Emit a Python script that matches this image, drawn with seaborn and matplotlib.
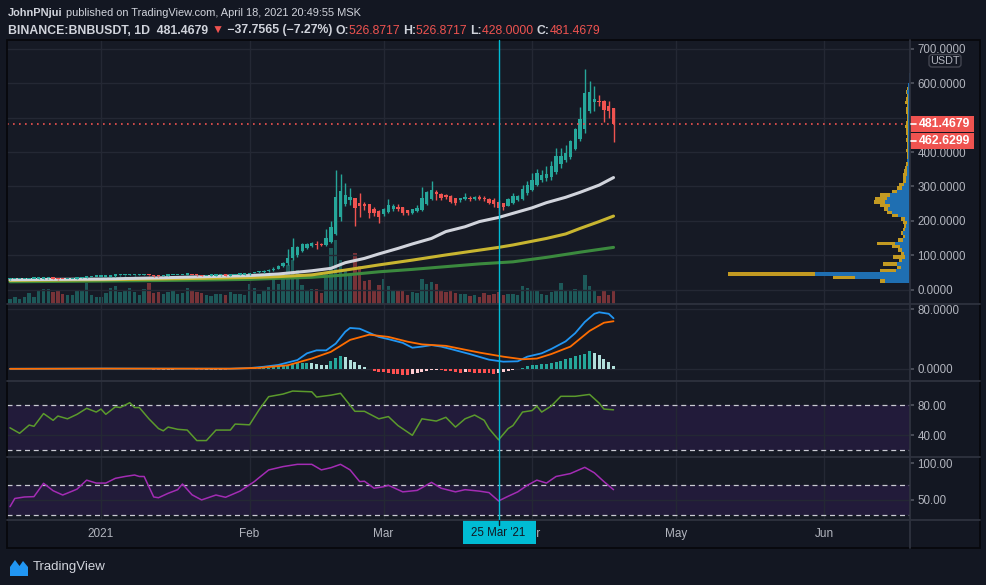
import matplotlib.pyplot as plt
import matplotlib.dates as mdates
import matplotlib.transforms as mtransforms
from matplotlib.patches import Rectangle, FancyBboxPatch
import numpy as np
import pandas as pd
import seaborn as sns

sns.set_theme(style="dark")
plt.rcParams['font.family'] = ['Liberation Sans', 'DejaVu Sans']
HEAD_FONT = ['Liberation Sans', 'DejaVu Sans']

BG = "#131722"
PANE = "#161a25"
GRID = "#242834"
SEP = "#2e323e"
TXT = "#b2b5be"
UP = "#26a69a"
DN = "#ef5350"
CYAN = "#00bcd4"

# ---- daily candles BNB/USDT, 13 Dec 2020 .. 18 Apr 2021 ----
dates = pd.date_range("2020-12-13", "2021-04-18", freq="D")

opens = [30.0, 30.4, 30.6, 30.7, 31.1, 31.6, 31.8, 32.5, 32.6, 32.7,
         31.6, 30.8, 30.5, 31.0, 31.6, 32.8, 35.2, 37.0, 37.5, 37.7,
         37.9, 38.2, 41.0, 41.4, 41.9, 42.3, 42.5, 42.6, 42.8, 43.3,
         41.5, 40.0, 39.6, 40.8, 41.9, 42.3, 42.7, 43.2, 43.4, 42.4,
         41.9, 39.8, 40.5, 40.8, 41.5, 42.0, 41.1, 42.2, 43.1, 43.9,
         44.9, 48.3, 50.4, 50.9, 52.9, 56.5, 61.5, 68.0, 77.0, 93.0,
         101, 113, 122, 128, 134, 133, 129, 138, 161, 212,
         249, 262, 267, 252, 249, 248, 236, 229, 220, 226,
         234, 241, 240, 231, 224, 228, 231, 249, 265, 285,
         277, 275, 272, 266, 262, 264, 268, 265, 268, 268,
         264, 260, 255, 251, 244, 253, 262, 265, 280, 290,
         304, 319, 324, 329, 343, 365, 376, 387, 409, 438,
         467, 519, 545, 550, 550, 535, 526.8717]
highs = [30.9, 31.0, 31.1, 31.5, 32.3, 32.4, 33.5, 34.2, 33.6, 33.0,
         31.9, 31.2, 31.6, 32.0, 33.6, 36.0, 38.5, 38.6, 38.3, 38.6,
         40.0, 42.0, 42.4, 43.0, 43.3, 44.5, 44.0, 44.4, 44.8, 43.6,
         41.9, 40.5, 41.6, 42.5, 43.3, 43.6, 44.0, 45.5, 43.9, 42.8,
         42.2, 41.2, 41.6, 42.3, 42.6, 42.2, 42.8, 43.7, 44.5, 45.8,
         49.5, 51.8, 53.5, 56.0, 60.5, 66.0, 72.0, 79.5, 118, 149,
         128, 135, 137, 138, 141, 136, 176, 199, 348, 336,
         310, 295, 268, 280, 256, 250, 240, 232, 238, 265,
         250, 248, 241, 232, 236, 245, 299, 288, 317, 290,
         280, 277, 274, 266, 268, 281, 272, 273, 276, 272,
         266, 266, 260, 253, 266, 281, 276, 303, 315, 340,
         352, 348, 360, 375, 412, 412, 420, 436, 470, 532,
         641, 606, 592, 565, 551, 550, 526.8717]
lows = [29.6, 30.0, 30.1, 30.3, 30.9, 31.2, 31.6, 31.9, 32.0, 31.0,
        29.6, 29.9, 30.2, 31.0, 31.4, 32.6, 34.8, 36.4, 36.8, 36.8,
        36.9, 37.9, 38.0, 40.6, 41.0, 41.5, 41.0, 41.3, 42.0, 40.6,
        37.5, 37.0, 39.0, 40.3, 41.5, 41.8, 42.3, 42.2, 41.8, 40.6,
        38.8, 39.0, 39.8, 40.3, 40.9, 39.7, 40.6, 41.8, 43.0, 43.5,
        43.8, 47.2, 49.2, 49.8, 52.0, 55.5, 60.0, 65.0, 72.0, 85.0,
        96, 110, 118, 125, 117, 126, 127, 135, 158, 200,
        244, 245, 185, 212, 232, 207, 215, 194, 215, 222,
        230, 228, 218, 216, 221, 225, 229, 245, 262, 262,
        262, 264, 253, 245, 256, 262, 258, 262, 260, 258,
        249, 240, 221, 232, 242, 250, 258, 262, 276, 287,
        300, 312, 315, 320, 335, 355, 370, 380, 405, 432,
        455, 515, 520, 535, 488, 500, 428.0]
closes = [30.4, 30.6, 30.7, 31.1, 31.6, 31.8, 32.5, 32.6, 32.7, 31.6,
          30.8, 30.5, 31.0, 31.6, 32.8, 35.2, 37.0, 37.5, 37.7, 37.9,
          38.2, 41.0, 41.4, 41.9, 42.3, 42.5, 42.6, 42.8, 43.3, 41.5,
          40.0, 39.6, 40.8, 41.9, 42.3, 42.7, 43.2, 43.4, 42.4, 41.9,
          39.8, 40.5, 40.8, 41.5, 42.0, 41.1, 42.2, 43.1, 43.9, 44.9,
          48.3, 50.4, 50.9, 52.9, 56.5, 61.5, 68.0, 77.0, 93.0, 123.0,
          125, 132, 134, 135, 130, 130, 149, 182, 270, 287,
          275, 270, 238, 243, 243, 222, 222, 212, 234, 245,
          243, 234, 222, 222, 234, 238, 267, 284, 290, 277,
          268, 269, 256, 251, 266, 270, 264, 270, 265, 264,
          253, 249, 238, 241, 263, 272, 273, 292, 304, 319,
          339, 334, 336, 360, 389, 389, 397, 433, 468, 497,
          571, 575, 555, 545, 522, 519.2244, 481.4679]
# volume, in the bar-height units of the lower band of the main pane
volume = [5.3, 6.7, 5.3, 7.3, 10.7, 6.7, 13.7, 14.7, 14.7, 11.7,
          12.7, 9.7, 8.7, 8.7, 12.7, 13.7, 21.0, 8.7, 6.7, 7.0,
          10.7, 15.7, 17.7, 11.7, 12.7, 16.3, 11.7, 9.3, 14.7, 20.7,
          10.7, 11.7, 10.3, 11.7, 12.7, 10.3, 10.7, 16.3, 12.7, 11.7,
          10.7, 8.7, 7.7, 9.7, 9.7, 8.7, 11.7, 9.7, 9.7, 8.7,
          19.7, 15.7, 9.7, 13.7, 16.7, 26.7, 19.7, 25.0, 38.7, 43.7,
          34.0, 18.7, 14.3, 14.7, 15.3, 10.7, 32.0, 56.0, 64.3, 43.7,
          34.3, 29.3, 51.0, 37.7, 22.7, 23.7, 13.3, 18.7, 25.3, 17.7,
          14.3, 13.7, 12.7, 8.7, 11.7, 11.0, 25.3, 20.0, 21.7, 20.3,
          12.7, 12.0, 13.3, 11.0, 10.0, 10.3, 7.7, 8.7, 6.7, 11.0,
          9.3, 10.3, 12.0, 8.7, 10.3, 10.3, 9.3, 17.7, 16.0, 14.3,
          13.7, 10.3, 9.3, 11.7, 14.3, 21.0, 13.3, 12.7, 15.3, 13.3,
          29.3, 17.7, 13.3, 7.7, 13.3, 9.3, 12.7]

# moving averages (at these candle indices)
ma50_idx = [0, 19, 30, 40, 50, 56, 63, 67, 70, 74, 77, 81, 84, 88, 91, 95, 98, 102, 105, 109,
            112, 116, 119, 123, 126]
ma50_val = [29, 31, 34, 37.5, 41, 45.6, 55, 62, 78.5, 91, 104, 120, 133, 149, 169, 183, 198, 210, 222, 238,
            253, 268.6, 283, 304, 326]
ma100_idx = [0, 19, 30, 40, 50, 56, 63, 70, 77, 84, 91, 98, 102, 105, 112, 116, 119, 123, 126]
ma100_val = [27, 29, 31, 33, 35.5, 38, 43, 57, 72, 86, 101, 115, 123, 130, 149, 162, 178, 198, 214]
ma200_idx = [0, 19, 30, 40, 50, 56, 63, 70, 77, 84, 91, 98, 105, 112, 119, 126]
ma200_val = [23, 25, 26.5, 28, 30, 33, 36, 42.7, 52, 59, 67, 75, 81, 94, 109, 123]

# MACD
macd_idx = [0, 20, 35, 46, 50, 53, 56, 60, 62, 64, 66, 68, 70, 71, 73, 77, 79, 82, 84, 86,
            88, 90, 92, 96, 100, 103, 106, 108, 111, 113, 116, 118, 120, 122, 123, 125, 126]
macd_val = [0.3, 0.6, 0.4, 0.4, 1.2, 3.0, 5.4, 12.0, 21.0, 25.0, 25.0, 34.0, 50.0, 55.0, 54.0, 43.0, 40.0, 35.0, 28.5, 30.0,
            32.0, 30.0, 26.8, 20.0, 12.5, 9.8, 10.3, 16.5, 21.0, 26.8, 37.0, 48.0, 63.0, 74.0, 76.0, 74.0, 68.0]
signal_idx = [0, 20, 46, 52, 58, 63, 67, 71, 75, 79, 83, 86, 91, 98, 103, 107, 110, 113, 117, 121, 124, 126]
signal_val = [0.2, 0.5, 0.4, 1.5, 5.0, 14.0, 23.0, 39.0, 46.0, 43.0, 36.6, 33.0, 31.0, 22.0, 16.5, 13.0, 14.0, 20.0, 30.0, 51.0,
              62.0, 64.0]
hist = [0.2, 0.3, 0.3, 0.2, 0.3, 0.4, 0.4, 0.3, 0.3, 0.2,
        0.1, 0.0, 0.1, 0.2, 0.3, 0.5, 0.7, 0.7, 0.6, 0.5,
        0.4, 0.5, 0.5, 0.4, 0.3, 0.3, 0.2, 0.1, 0.0, -0.4,
        -0.9, -1.2, -1.1, -0.9, -0.7, -0.6, -0.5, -0.4, -0.6, -0.8,
        -1.2, -1.1, -0.9, -0.8, -0.7, -0.8, -0.6, -0.4, -0.2, 0.1,
        0.6, 0.9, 1.0, 1.3, 1.8, 3.0, 3.8, 4.6, 6.0, 7.2,
        8.1, 8.3, 8.6, 7.8, 6.9, 5.8, 5.4, 10.7, 14.5, 16.8,
        15.5, 12.0, 9.0, 5.5, 3.0, 0.6, -2.5, -3.6, -4.6, -5.5,
        -6.6, -7.2, -7.8, -8.0, -7.0, -5.2, -3.6, -2.4, -1.8, -1.3,
        -1.6, -2.6, -3.3, -4.4, -4.8, -4.0, -4.6, -5.0, -5.3, -5.8,
        -5.9, -6.1, -5.6, -3.8, -2.5, -1.2, 0.4, 1.5, 3.5, 5.4,
        5.9, 6.6, 7.1, 8.4, 10.0, 11.2, 13.0, 14.6, 17.0, 18.5,
        20.5, 24.0, 21.6, 18.2, 14.0, 9.5, 3.8]

# oscillator 1 (green, bands 80/20)
osc1_idx = [0, 2, 4, 5, 7, 9, 10, 12, 14, 16, 18, 19, 20, 22, 23, 25, 26, 27, 29, 31,
            32, 33, 35, 37, 39, 41, 43, 46, 47, 50, 52, 54, 57, 59, 63, 64, 67, 69, 72, 74,
            77, 79, 81, 84, 86, 89, 91, 93, 95, 97, 99, 100, 102, 104, 105, 107, 109, 110, 111, 113,
            115, 118, 121, 123, 124, 126]
osc1_val = [50, 42.7, 53.7, 52, 69, 60, 65.7, 62, 68, 76, 71, 75, 68, 78, 77, 83.5, 77, 77, 62, 49,
            46, 51, 48, 47, 33, 33, 47, 47, 55, 54, 74, 91.5, 95, 99, 98, 91, 93.5, 96, 72, 72,
            62, 65, 53, 40, 62, 59, 64, 51, 62, 67, 60, 49, 34, 49, 53, 71, 73, 79, 71, 79,
            92, 92, 94.5, 83, 75, 74]
# oscillator 2 (purple, bands 70/30)
osc2_idx = [0, 1, 3, 5, 7, 9, 11, 13, 14, 16, 18, 20, 22, 24, 26, 27, 28, 30, 31, 33,
            35, 36, 38, 40, 43, 45, 48, 51, 52, 54, 57, 60, 63, 65, 67, 69, 71, 73, 74, 76,
            78, 79, 82, 85, 88, 90, 93, 95, 98, 100, 102, 104, 106, 108, 110, 112, 114, 117, 120, 122,
            124, 126]
osc2_val = [40.8, 52, 54, 54.5, 72.7, 62.6, 56.7, 62, 64.8, 77, 73, 73, 79.5, 82, 84, 82, 82, 54, 53, 59,
            64, 71.7, 57, 50, 56.7, 53.6, 62, 75, 80.4, 90.9, 95.5, 98.6, 98.6, 91, 94, 98.6, 91, 75, 75.5, 66,
            68, 70, 61, 63, 74, 66, 61, 64, 62, 60, 48.6, 55, 61, 70, 77, 73, 82, 86, 94.5, 87,
            75, 64]

# visible range volume profile, 10 USDT rows
prof_price = np.arange(25, 640, 10)
prof_up = [25, 55, 95, 14, 9, 13, 8, 5, 6, 8,
           10, 15, 7, 5, 7, 5, 4, 3, 5, 12,
           18, 22, 20, 25, 23, 20, 13, 8, 6, 4,
           4, 3, 3, 2.5, 2, 2.7, 2, 1.5, 1.5, 1.7,
           1.7, 1.5, 1.5, 1.5, 1.5, 1.5, 1.5, 1.5, 1.5, 1.5,
           2, 2, 2, 2, 2, 2.5, 2, 1.5, 1, 0.7,
           0.5, 0.3]
prof_dn = [5, 22, 87, 16, 4, 14, 3, 12, 3, 4,
           8, 18, 5, 2, 2, 2, 2, 4, 4, 6,
           5, 4, 10, 11, 12, 10, 5, 5, 5, 3,
           3, 4, 3, 2, 1.5, 0.5, 1, 1.5, 2, 1.3,
           1.5, 2, 1, 2, 2.5, 3, 2, 1, 1.5, 2,
           2, 1, 2.5, 2, 1, 1.5, 0.5, 0.5, 0.3, 0,
           0, 0]

month_ticks = pd.to_datetime(["2021-01-01", "2021-02-01", "2021-03-01", "2021-04-01", "2021-05-01", "2021-06-01"])
month_labels = ["2021", "Feb", "Mar", "Apr", "May", "Jun"]
cross_date = pd.Timestamp("2021-03-25")
last_price = 481.4679

df = pd.DataFrame({"date": dates, "open": opens, "high": highs, "low": lows,
                   "close": closes, "volume": volume, "hist": hist})
up = df["close"] >= df["open"]
candle_colors = np.where(up, UP, DN)

# ---- layout (pixels of a 987x585 canvas) ----
W, H = 987, 585
X0, X1 = 7, 910


def pane(y0, y1):
    return [X0 / W, 1 - y1 / H, (X1 - X0) / W, (y1 - y0) / H]


fig = plt.figure(figsize=(W / 100, H / 100), dpi=100, facecolor=BG)
xmin = dates[0] - pd.Timedelta(days=0.63)
xmax = dates[0] + pd.Timedelta(days=187.9)


def style_pane(a, yticks, labels, ylim):
    a.set_xlim(xmin, xmax)
    a.set_ylim(*ylim)
    a.set_xticks(month_ticks)
    a.yaxis.tick_right()
    a.set_yticks(yticks)
    a.set_yticklabels(labels)
    a.tick_params(axis="y", labelcolor=TXT, color="#50535e", length=3, pad=2.5, labelsize=8.3)
    a.tick_params(axis="x", length=0, labelbottom=False)
    a.grid(True, axis="x", color=GRID, lw=1)
    for s in a.spines.values():
        s.set_visible(False)
    a.set_xlabel("")
    a.set_ylabel("")


# main price pane with volume underneath
ax = fig.add_axes(pane(40, 304))
ax_vol = ax.twinx()
ax.set_zorder(ax_vol.get_zorder() + 1)
ax.patch.set_visible(False)
ax_vol.patch.set_visible(True)
ax_vol.set_facecolor(PANE)
ax_vol.bar(df["date"], df["volume"], width=0.72, color=candle_colors, alpha=0.45, linewidth=0)
ax_vol.set_ylim(0, 264)
ax_vol.set_yticks([])
for s in ax_vol.spines.values():
    s.set_visible(False)

price_ticks = list(range(0, 701, 100))
for v in price_ticks:
    ax.axhline(v, color=GRID, lw=1, zorder=0)
sns.lineplot(x=dates[ma200_idx], y=ma200_val, ax=ax, color="#3b8a3e", linewidth=2.2, zorder=3)
sns.lineplot(x=dates[ma100_idx], y=ma100_val, ax=ax, color="#c8b530", linewidth=2.2, zorder=3)
sns.lineplot(x=dates[ma50_idx], y=ma50_val, ax=ax, color="#d1d4dc", linewidth=2.2, zorder=3)

body = np.maximum((df["close"] - df["open"]).abs(), 4.0)
ax.vlines(df["date"], df["low"], df["high"], colors=candle_colors, linewidth=1, zorder=4)
ax.bar(df["date"], body, bottom=np.minimum(df["open"], df["close"]), width=0.7,
       color=candle_colors, linewidth=0, zorder=5)
ax.axhline(last_price, color=DN, lw=1.2, ls=(0, (1, 2.6)), zorder=6)
# 500 sits under the last-price tag, as on the reference
price_labels = ["" if v == 500 else f"{v:.4f}" for v in price_ticks]
style_pane(ax, price_ticks, price_labels, (-41.6, 725.9))

# volume profile anchored to the right edge of the price pane
ax_prof = fig.add_axes(pane(40, 304), zorder=ax.get_zorder() + 1)
ax_prof.barh(prof_price, prof_up, height=10, left=0, color="#1f6fb2", linewidth=0)
ax_prof.barh(prof_price, prof_dn, height=10, left=prof_up, color="#c39a22", linewidth=0)
ax_prof.set_xlim(X1 - X0, 0)
ax_prof.set_ylim(-41.6, 725.9)
ax_prof.axis("off")

# MACD pane
ax_m = fig.add_axes(pane(304, 381), facecolor=PANE)
hist_colors = []
prev = 0.0
for h in hist:
    if h >= 0:
        hist_colors.append(UP if h >= prev else "#b2dfdb")
    else:
        hist_colors.append("#ff5252" if h < prev else "#ffcdd2")
    prev = h
ax_m.axhline(0, color=GRID, lw=1, zorder=0)
ax_m.axhline(80, color=GRID, lw=1, zorder=0)
ax_m.bar(df["date"], df["hist"], width=0.62, color=hist_colors, linewidth=0)
sns.lineplot(x=dates[macd_idx], y=macd_val, ax=ax_m, color="#2196f3", linewidth=1.3)
sns.lineplot(x=dates[signal_idx], y=signal_val, ax=ax_m, color="#ff6d00", linewidth=1.3)
style_pane(ax_m, [0, 80], ["0.0000", "80.0000"], (-16.1, 87.1))

# oscillator panes
ax_r1 = fig.add_axes(pane(381, 457), facecolor=PANE)
ax_r1.axhspan(20, 80, color="#221b3a", lw=0, zorder=0)
ax_r1.axhline(40, color=GRID, lw=1, zorder=0.5)
for lvl in (80, 20):
    ax_r1.axhline(lvl, color="#c9cad2", lw=0.9, ls=(0, (4, 3)), zorder=1)
sns.lineplot(x=dates[osc1_idx], y=osc1_val, ax=ax_r1, color="#5b9a2c", linewidth=1.1)
style_pane(ax_r1, [40, 80], ["40.00", "80.00"], (11.1, 112.4))

ax_r2 = fig.add_axes(pane(457, 520), facecolor=PANE)
ax_r2.axhspan(30, 70, color="#221b3a", lw=0, zorder=0)
ax_r2.axhline(50, color=GRID, lw=1, zorder=0.5)
for lvl in (70, 30):
    ax_r2.axhline(lvl, color="#c9cad2", lw=0.9, ls=(0, (4, 3)), zorder=1)
sns.lineplot(x=dates[osc2_idx], y=osc2_val, ax=ax_r2, color="#a32cb4", linewidth=1.1)
style_pane(ax_r2, [50, 100], ["50.00", "100.00"], (22.6, 108.6))
ax_r2.set_xticks(month_ticks)
ax_r2.set_xticklabels(month_labels)
ax_r2.tick_params(axis="x", labelbottom=True, labelsize=8.5, labelcolor=TXT, pad=5.5)

# ---- overlay in canvas pixels ----
top = fig.add_axes([0, 0, 1, 1], zorder=50)
top.set_xlim(0, W)
top.set_ylim(H, 0)
top.axis("off")

for y in (304, 381, 457, 520):
    top.plot([X0, 980], [y, y], color=SEP, lw=1.3)
top.plot([X1, X1], [40, 548], color=SEP, lw=1.3)
top.add_patch(Rectangle((X0, 40), 980 - X0, 508, fill=False, edgecolor="#07080c", lw=1.3))

# crosshair
cx = mdates.date2num(cross_date)
blend = mtransforms.blended_transform_factory(ax_r2.transData, top.transData)
top.plot([cx, cx], [40, 520], color=CYAN, lw=1, transform=blend)
top.add_patch(Rectangle((cx - 7.4, 520), 15.3, 24, color=CYAN, transform=blend, lw=0))
top.plot([cx, cx], [520, 525], color="#131722", lw=1, transform=blend)
top.text(cx, 532.5, "25 Mar '21", transform=blend, ha="center", va="center",
         fontsize=8.3, color="#131722", family=HEAD_FONT)

# price tags on the axis
pblend = mtransforms.blended_transform_factory(top.transData, ax.transData)
for val, txt in [(last_price, "481.4679"), (last_price - 49, "462.6299")]:
    top.add_patch(Rectangle((X1, val - 24), 64, 48, color=DN, transform=pblend, lw=0))
    top.plot([X1 + 1, X1 + 6], [val, val], color="white", lw=1.2, transform=pblend)
    top.text(X1 + 9, val, txt, transform=pblend, va="center", ha="left",
             fontsize=8.8, fontweight="bold", color="white")

top.add_patch(FancyBboxPatch((929, 54.5), 32, 12.5, boxstyle="round,pad=0,rounding_size=3",
                             facecolor=BG, edgecolor="#434651", lw=1))
top.text(945, 61, "USDT", ha="center", va="center", fontsize=7.8, color=TXT)


# header, written as a chain of coloured pieces
def chain(x, y, parts, size):
    t = top.text(x, y, parts[0][0], color=parts[0][1], fontweight=parts[0][2],
                 fontsize=size, family=HEAD_FONT, va="bottom", ha="left")
    for s, c, w in parts[1:]:
        t = top.annotate(s, xy=(1, 0), xycoords=t, va="bottom", ha="left", color=c,
                         fontweight=w, fontsize=size, family=HEAD_FONT)


WHITE = "#d1d4dc"
chain(8, 18.5, [("JohnPNjui", WHITE, "bold"),
                (" published on TradingView.com, April 18, 2021 20:49:55 MSK", WHITE, "normal")], 7.9)
chain(8, 36.5, [("BINANCE:BNBUSDT, 1D", WHITE, "bold"),
                ("  481.4679 ", WHITE, "bold"),
                ("\u25bc", DN, "normal"),
                (" \u221237.7565 (\u22127.27%) ", WHITE, "bold"),
                ("O:", WHITE, "bold"), ("526.8717 ", DN, "normal"),
                ("H:", WHITE, "bold"), ("526.8717 ", DN, "normal"),
                ("L:", WHITE, "bold"), ("428.0000 ", DN, "normal"),
                ("C:", WHITE, "bold"), ("481.4679", DN, "normal")], 8.8)

# footer logo
top.fill([10, 10, 15, 19.5, 23, 28, 28], [576, 567, 560, 566, 561, 567, 576], color="#2196f3", lw=0)
top.text(33, 567, "TradingView", va="center", ha="left", fontsize=9.5, color=WHITE, family=HEAD_FONT)

fig.savefig("out.png", dpi=100, facecolor=BG)
